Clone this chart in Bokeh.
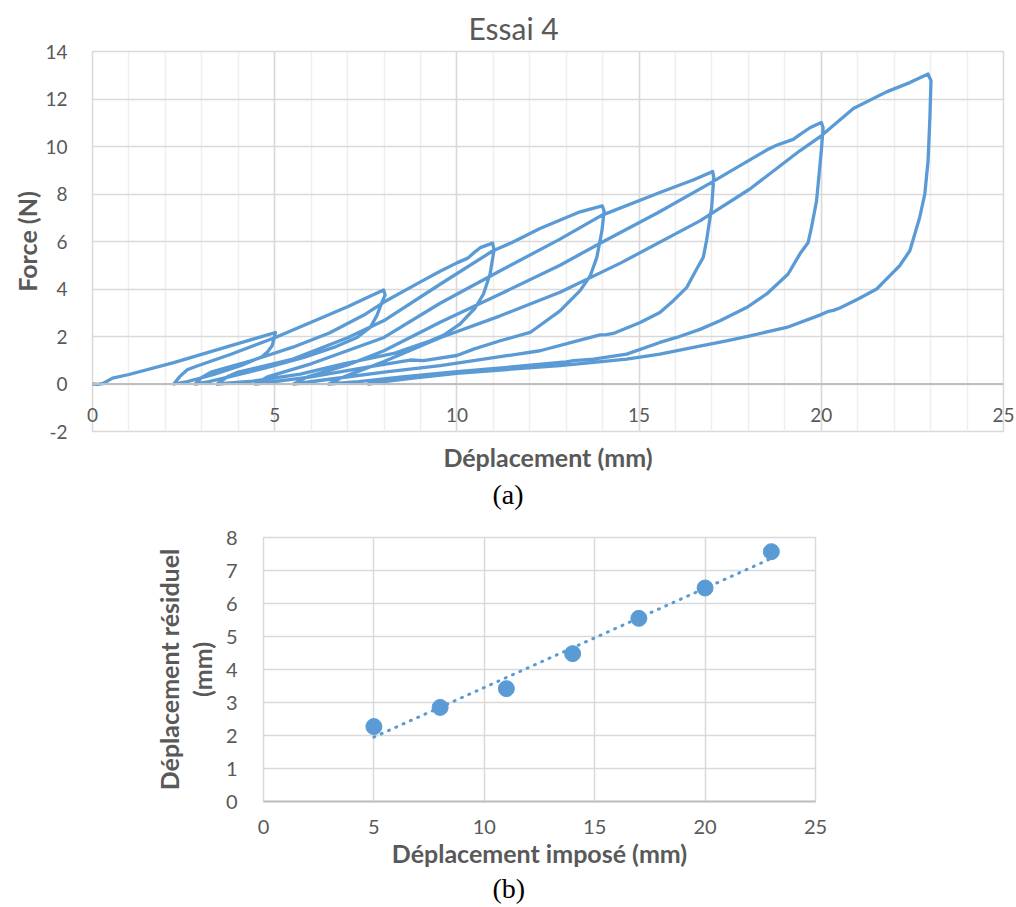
import numpy as np
from bokeh.plotting import figure
from bokeh.layouts import column
from bokeh.models import Range1d, SingleIntervalTicker, FixedTicker, LinearAxis, Span, Title
from bokeh.embed import file_html
from bokeh.resources import INLINE

# ---------------- (a) cyclic test "Essai 4" : displacement (mm) / force (N) ----------------
load1_x = [0, 0.15, 0.3, 0.55, 1.0, 2.23, 3.5, 4.5, 5.02]
load1_y = [0, -0.02, 0.03, 0.25, 0.4, 0.9, 1.48, 1.93, 2.17]
unload1_x = [5.02, 4.98, 4.93, 4.8, 4.65, 4.06, 3.33, 2.6, 2.23]
unload1_y = [2.17, 1.9, 1.61, 1.35, 1.15, 0.77, 0.4, 0.1, 0]

load2_x = [2.23, 2.4, 2.6, 2.85, 3.8, 5.0, 6.0, 7.0, 7.6, 7.99]
load2_y = [0, 0.32, 0.6, 0.75, 1.25, 1.95, 2.6, 3.25, 3.68, 3.96]
unload2_x = [7.99, 8.03, 7.94, 7.8, 7.62, 7.26, 6.62, 5.8, 4.8, 3.8, 3.2, 2.82]
unload2_y = [3.96, 3.75, 3.43, 2.87, 2.38, 1.96, 1.54, 1.12, 0.7, 0.32, 0.1, 0]

load3_x = [2.82, 3.0, 3.25, 4.3, 5.5, 6.5, 7.5, 8.0, 9.0, 9.54, 10.0, 10.3, 10.46, 10.64, 10.98]
load3_y = [0, 0.28, 0.5, 0.95, 1.55, 2.15, 2.95, 3.45, 4.3, 4.75, 5.1, 5.3, 5.52, 5.74, 5.93]
unload3_x = [10.98, 11.02, 10.91, 10.73, 10.5, 10.09, 9.63, 9.27, 8.3, 6.89, 5.7, 4.4, 3.42]
unload3_y = [5.93, 5.65, 4.63, 3.79, 3.2, 2.53, 2.05, 1.82, 1.3, 0.85, 0.42, 0.12, 0]

load4_x = [3.42, 3.7, 4.0, 5.5, 7.0, 8.0, 9.54, 10.98, 11.5, 12.28, 13.38, 13.99]
load4_y = [0, 0.3, 0.5, 1.05, 1.95, 2.67, 4.2, 5.6, 5.95, 6.55, 7.25, 7.5]
unload4_x = [13.99, 14.04, 13.98, 13.84, 13.66, 13.38, 12.83, 12.01, 11.19, 10.46, 10.0,
             9.08, 8.72, 7.5, 6.0, 4.47]
unload4_y = [7.5, 7.29, 6.45, 5.33, 4.56, 3.93, 3.08, 2.17, 1.82, 1.47, 1.2,
             0.98, 1.01, 0.7, 0.3, 0]

load5_x = [4.47, 4.8, 6.0, 8.0, 9.54, 11.19, 12.83, 13.97, 15.57, 16.5, 17.02]
load5_y = [0, 0.3, 0.85, 1.96, 3.4, 4.77, 6.1, 7.1, 8.06, 8.6, 8.95]
unload5_x = [17.02, 17.05, 16.99, 16.85, 16.76, 16.58, 16.31, 15.94, 15.57, 15.03, 14.29,
             14.1, 13.93, 13.38, 12.28, 11.37, 10.46, 9.54, 8.0, 6.5, 5.52]
unload5_y = [8.95, 8.7, 7.43, 6.03, 5.33, 4.84, 4.07, 3.51, 3.01, 2.59, 2.13,
             2.08, 2.07, 1.85, 1.4, 1.19, 0.98, 0.77, 0.5, 0.2, 0]

load6_x = [5.52, 5.9, 7.0, 8.0, 9.54, 11.19, 12.83, 13.97, 15.5, 16.99, 17.5, 18.5,
           18.77, 19.23, 19.41, 19.7, 20.0]
load6_y = [0, 0.3, 0.8, 1.4, 2.6, 3.79, 5.0, 5.96, 7.2, 8.49, 8.95, 9.85,
           10.05, 10.3, 10.5, 10.8, 11.01]
unload6_x = [20.0, 20.05, 20.0, 19.87, 19.73, 19.64, 19.41, 19.09, 18.5, 17.95, 17.22, 16.67,
             16.03, 15.57, 14.66, 13.75, 13.2, 13.0, 12.83, 11.5, 10.0, 8.5, 7.3, 6.48]
unload6_y = [11.01, 10.8, 9.82, 7.71, 6.59, 5.96, 5.47, 4.63, 3.79, 3.22, 2.66, 2.3,
             1.96, 1.75, 1.26, 1.05, 0.98, 0.93, 0.91, 0.72, 0.52, 0.3, 0.1, 0]

load7_x = [6.48, 6.9, 8.0, 9.54, 11.19, 12.83, 14.5, 16.67, 18.04, 19.41, 20.0, 20.88,
           21.79, 22.43, 22.93]
load7_y = [0, 0.3, 0.95, 1.95, 2.87, 3.86, 5.1, 6.87, 8.21, 9.82, 10.45, 11.6,
           12.3, 12.69, 13.05]
unload7_x = [22.93, 23.01, 22.98, 22.93, 22.84, 22.7, 22.43, 22.15, 21.97, 21.52, 21.01,
             20.51, 20.33, 20.2, 19.96, 19.05, 18.04, 17.4, 16.49, 15.57, 14.66, 13.75,
             12.83, 11.19, 10.0, 8.8, 8.0, 7.57]
unload7_y = [13.05, 12.77, 11.22, 9.4, 8.0, 7.01, 5.61, 4.98, 4.7, 4.0, 3.58,
             3.2, 3.1, 3.06, 2.9, 2.38, 2.03, 1.82, 1.54, 1.26, 1.05, 0.91,
             0.77, 0.59, 0.45, 0.25, 0.1, 0]

# ---------------- (b) residual vs imposed displacement ----------------
imposed = [5, 8, 11, 14, 17, 20, 23]
residual = [2.27, 2.85, 3.42, 4.48, 5.55, 6.47, 7.57]

BLUE = "#5B9BD5"
GREY_TXT = "#595959"
GRID = "#d9d9d9"
FONT = "Lato"

segs_x = [load1_x, unload1_x, load2_x, unload2_x, load3_x, unload3_x, load4_x, unload4_x,
          load5_x, unload5_x, load6_x, unload6_x, load7_x, unload7_x]
segs_y = [load1_y, unload1_y, load2_y, unload2_y, load3_y, unload3_y, load4_y, unload4_y,
          load5_y, unload5_y, load6_y, unload6_y, load7_y, unload7_y]
disp = []
force = []
for i, (sx, sy) in enumerate(zip(segs_x, segs_y)):
    if i == 0:
        disp += sx
        force += sy
    else:
        disp += sx[1:]
        force += sy[1:]

# ================= top figure =================
p1 = figure(width=1016, height=515, x_range=Range1d(0, 25), y_range=Range1d(-2, 14),
            output_backend="svg", toolbar_location=None,
            min_border_left=92, min_border_right=13, min_border_top=51, min_border_bottom=84)
p1.frame_align = False
p1.background_fill_color = "white"
p1.border_fill_color = "white"
p1.outline_line_color = GRID
p1.outline_line_width = 1.5

p1.title.text = "Essai 4"
p1.title.align = "left"
p1.title.offset = 376
p1.title.text_font = FONT
p1.title.text_font_size = "30px"
p1.title.text_font_style = "normal"
p1.title.text_color = GREY_TXT
p1.title.standoff = 11

p1.xaxis.ticker = SingleIntervalTicker(interval=5, num_minor_ticks=5)
p1.yaxis.ticker = SingleIntervalTicker(interval=2, num_minor_ticks=0)
p1.yaxis.major_label_overrides = {-2: "-2"}
p1.xgrid.grid_line_color = GRID
p1.xgrid.grid_line_width = 1.5
p1.xgrid.minor_grid_line_color = "#eeeeee"
p1.xgrid.minor_grid_line_width = 1.5
p1.ygrid.grid_line_color = GRID
p1.ygrid.grid_line_width = 1.5

for ax in (p1.xaxis[0], p1.yaxis[0]):
    ax.axis_line_color = None
    ax.major_tick_line_color = None
    ax.minor_tick_line_color = None
    ax.major_label_text_font = FONT
    ax.major_label_text_font_size = "19px"
    ax.major_label_text_color = GREY_TXT
    ax.axis_label_text_font = FONT
    ax.axis_label_text_font_size = "25px"
    ax.axis_label_text_font_style = "bold"
    ax.axis_label_text_color = GREY_TXT

p1.xaxis.major_label_standoff = -30
p1.xaxis.axis_label = "Déplacement (mm)"
p1.xaxis.axis_label_standoff = 17
p1.yaxis.axis_label = "Force (N)"
p1.yaxis.axis_label_standoff = 0
p1.yaxis.major_label_standoff = 19

p1.add_layout(Span(location=0, dimension="width", line_color="#bfbfbf", line_width=2))

p1.line(disp, force, line_color=BLUE, line_width=3.3, line_join="round", line_cap="round")

p1.add_layout(Title(text="(a)", align="left", offset=400, text_font="Liberation Serif",
                    text_font_size="28px", text_font_style="normal", text_color="black",
                    standoff=5), "below")

# ================= bottom figure =================
p2 = figure(width=1016, height=389, x_range=Range1d(0, 25), y_range=Range1d(0, 8),
            output_backend="svg", toolbar_location=None,
            min_border_left=263, min_border_right=201, min_border_top=22, min_border_bottom=103)
p2.frame_align = False
p2.background_fill_color = "white"
p2.border_fill_color = "white"
p2.outline_line_color = GRID
p2.outline_line_width = 1.5
p2.xaxis.ticker = SingleIntervalTicker(interval=5, num_minor_ticks=0)
p2.yaxis.ticker = SingleIntervalTicker(interval=1, num_minor_ticks=0)
p2.xgrid.grid_line_color = GRID
p2.xgrid.grid_line_width = 1.5
p2.ygrid.grid_line_color = GRID
p2.ygrid.grid_line_width = 1.5

for ax in (p2.xaxis[0], p2.yaxis[0]):
    ax.axis_line_color = None
    ax.major_tick_line_color = None
    ax.minor_tick_line_color = None
    ax.major_label_text_font = FONT
    ax.major_label_text_font_size = "20px"
    ax.major_label_text_color = GREY_TXT
    ax.axis_label_text_font = FONT
    ax.axis_label_text_font_size = "25px"
    ax.axis_label_text_font_style = "bold"
    ax.axis_label_text_color = GREY_TXT

p2.xaxis.axis_line_color = "#bfbfbf"
p2.xaxis.axis_line_width = 2
p2.xaxis.major_label_standoff = 12
p2.xaxis.axis_label = "Déplacement imposé (mm)"
p2.xaxis.axis_label_standoff = 1
p2.yaxis.major_label_standoff = 20
p2.yaxis.axis_label = "(mm)"
p2.yaxis.axis_label_standoff = 6

outer = LinearAxis(ticker=FixedTicker(ticks=[]), axis_label="Déplacement résiduel",
                   axis_line_color=None, major_tick_line_color=None,
                   minor_tick_line_color=None, major_label_text_font_size="0px",
                   axis_label_text_font=FONT, axis_label_text_font_size="25px",
                   axis_label_text_font_style="bold", axis_label_text_color=GREY_TXT,
                   axis_label_standoff=0)
p2.add_layout(outer, "left")

slope, intercept = np.polyfit(imposed, residual, 1)
tx = np.array([imposed[0], imposed[-1]], dtype=float)
p2.line(tx, slope * tx + intercept, line_color=BLUE, line_width=3,
        line_dash="1 7", line_cap="round")
p2.scatter(imposed, residual, size=16, fill_color=BLUE, line_color=BLUE)

p2.add_layout(Title(text="(b)", align="left", offset=229, text_font="Liberation Serif",
                    text_font_size="28px", text_font_style="normal", text_color="black",
                    standoff=0), "below")

layout = column(p1, p2)
open("out.html", "w").write(file_html(layout, INLINE))
